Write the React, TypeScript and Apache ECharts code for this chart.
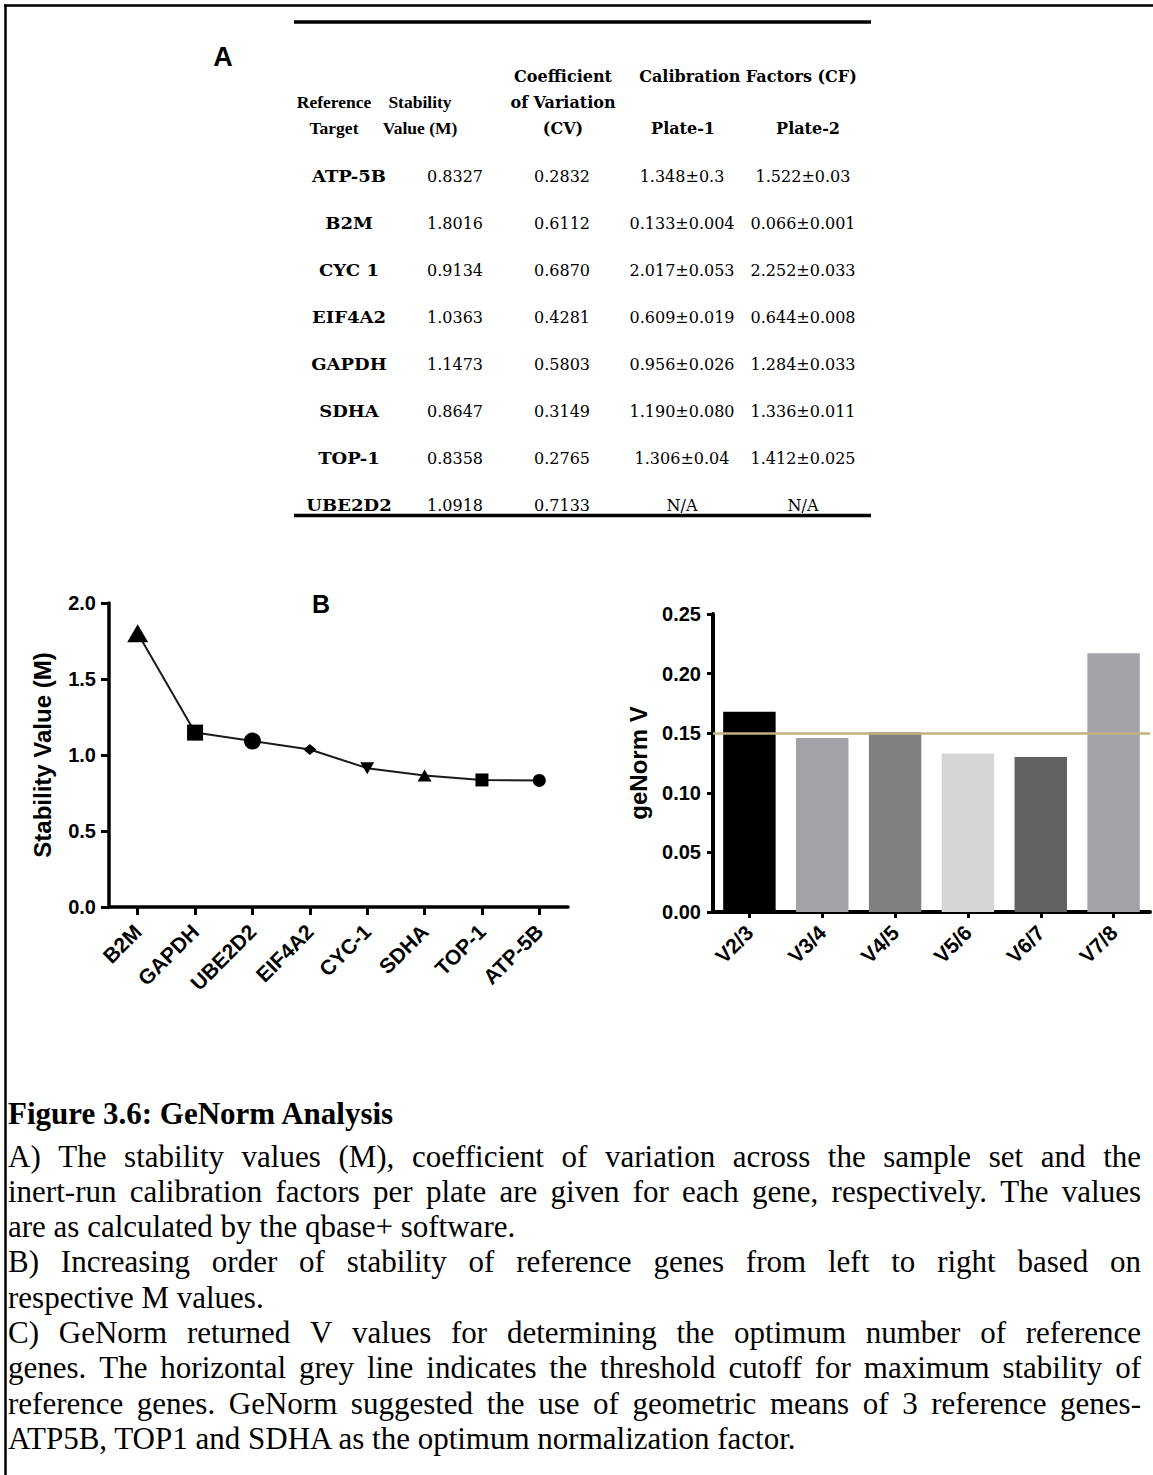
import React, { useEffect, useRef } from "react";
import * as echarts from "echarts";

const PAGE_W = 1153;
const PAGE_H = 1475;

// ---------- Panel A (table) ----------
const tableGenes = ["ATP-5B", "B2M", "CYC 1", "EIF4A2", "GAPDH", "SDHA", "TOP-1", "UBE2D2"];
const tableM = ["0.8327", "1.8016", "0.9134", "1.0363", "1.1473", "0.8647", "0.8358", "1.0918"];
const tableCV = ["0.2832", "0.6112", "0.6870", "0.4281", "0.5803", "0.3149", "0.2765", "0.7133"];
const tableCF1 = ["1.348±0.3", "0.133±0.004", "2.017±0.053", "0.609±0.019", "0.956±0.026", "1.190±0.080", "1.306±0.04", "N/A"];
const tableCF2 = ["1.522±0.03", "0.066±0.001", "2.252±0.033", "0.644±0.008", "1.284±0.033", "1.336±0.011", "1.412±0.025", "N/A"];
const tableHeaders = [
  { text: "Coefficient", col: "cv", row: 0, narrow: false },
  { text: "Calibration Factors (CF)", col: "cf", row: 0, narrow: false },
  { text: "Reference", col: "ref", row: 1, narrow: true },
  { text: "Stability", col: "stab", row: 1, narrow: true },
  { text: "of Variation", col: "cv", row: 1, narrow: false },
  { text: "Target", col: "ref", row: 2, narrow: true },
  { text: "Value (M)", col: "stab", row: 2, narrow: true },
  { text: "(CV)", col: "cv", row: 2, narrow: false },
  { text: "Plate-1", col: "p1", row: 2, narrow: false },
  { text: "Plate-2", col: "p2", row: 2, narrow: false },
];

// ---------- Panel B (line) ----------
const bGenes = ["B2M", "GAPDH", "UBE2D2", "EIF4A2", "CYC-1", "SDHA", "TOP-1", "ATP-5B"];
const bValues = [1.8016, 1.1473, 1.0918, 1.0363, 0.9134, 0.8647, 0.8358, 0.8327];
const bSymbols = ["triangle", "rect", "circle", "diamond", "triangle", "triangle", "rect", "circle"];
const bSymbolRotate = [0, 0, 0, 0, 180, 0, 0, 0];
const bSymbolSizes = [[21, 18], [16, 16], [17, 17], [13, 11], [14, 12], [14, 12], [13, 13], [13, 13]];

// ---------- Panel C (bars) ----------
const cCats = ["V2/3", "V3/4", "V4/5", "V5/6", "V6/7", "V7/8"];
const cValues = [0.168, 0.146, 0.151, 0.133, 0.13, 0.217];
const cColors = ["#000000", "#a3a2a7", "#808080", "#d5d5d5", "#626262", "#a3a2a7"];
const cThreshold = 0.15;

// ---------- Caption ----------
const captionTitle = "Figure 3.6: GeNorm Analysis";
const captionLines = [
  { text: "A) The stability values (M), coefficient of variation across the sample set and the", justify: true },
  { text: "inert-run calibration factors per plate are given for each gene, respectively. The values", justify: true },
  { text: "are as calculated by the qbase+ software.", justify: false },
  { text: "B) Increasing order of stability of reference genes from left to right based on", justify: true },
  { text: "respective M values.", justify: false },
  { text: "C) GeNorm returned V values for determining the optimum number of reference", justify: true },
  { text: "genes. The horizontal grey line indicates the threshold cutoff for maximum stability of", justify: true },
  { text: "reference genes. GeNorm suggested the use of geometric means of 3 reference genes-", justify: true },
  { text: "ATP5B, TOP1 and SDHA as the optimum normalization factor.", justify: false },
];

const SANS = '"Liberation Sans", Arial, sans-serif';
const TSERIF = '"DejaVu Serif", serif';
const CSERIF = '"Liberation Serif", "Times New Roman", serif';

let measureCtx: CanvasRenderingContext2D | null = null;
function measure(text: string, font: string): number {
  if (!measureCtx) {
    const c = document.createElement("canvas");
    measureCtx = c.getContext("2d");
  }
  if (!measureCtx) return text.length * 14;
  measureCtx.font = font;
  return measureCtx.measureText(text).width;
}

function txt(x: number, y: number, text: string, font: string, align = "center", extra: any = {}) {
  return {
    type: "text",
    x,
    y,
    silent: true,
    ...extra,
    style: {
      text,
      font,
      fill: "#000",
      align,
      textAlign: align,
      verticalAlign: "middle",
      textVerticalAlign: "middle",
    },
  };
}

function buildGraphics(): any[] {
  const g: any[] = [];
  // page frame
  g.push({ type: "line", silent: true, shape: { x1: 4, y1: 5.5, x2: PAGE_W, y2: 5.5 }, style: { stroke: "#000", lineWidth: 2.5 } });
  g.push({ type: "line", silent: true, shape: { x1: 5.5, y1: 4.5, x2: 5.5, y2: PAGE_H }, style: { stroke: "#000", lineWidth: 2.5 } });

  // Panel A
  g.push(txt(223, 57, "A", `bold 27px ${SANS}`));
  g.push({ type: "line", silent: true, shape: { x1: 294, y1: 22, x2: 871, y2: 22 }, style: { stroke: "#000", lineWidth: 3.5 } });
  g.push({ type: "line", silent: true, shape: { x1: 294, y1: 515.5, x2: 871, y2: 515.5 }, style: { stroke: "#000", lineWidth: 3.5 } });
  const headerX: Record<string, number> = { ref: 334, stab: 420, cv: 563, cf: 748, p1: 683, p2: 808 };
  const headerY = [76, 102, 128];
  const hFont = `bold 16px ${TSERIF}`;
  const hNarrowFont = `bold 17.5px ${CSERIF}`;
  tableHeaders.forEach((h) => g.push(txt(headerX[h.col], headerY[h.row], h.text, h.narrow ? hNarrowFont : hFont)));
  const colX = [349, 455, 562, 682, 803];
  const nFont = `bold 17px ${TSERIF}`;
  const vFont = `16px ${TSERIF}`;
  tableGenes.forEach((gene, i) => {
    const y = 176 + i * 47;
    g.push(txt(colX[0], y, gene, nFont, "center", { scaleX: 1.06, originX: 0, originY: 0 }));
    g.push(txt(colX[1], y, tableM[i], vFont));
    g.push(txt(colX[2], y, tableCV[i], vFont));
    g.push(txt(colX[3], y, tableCF1[i], vFont));
    g.push(txt(colX[4], y, tableCF2[i], vFont));
  });

  // Panel B label + axis names
  g.push(txt(321, 604, "B", `bold 25px ${SANS}`));
  g.push(txt(42, 755, "Stability Value (M)", `bold 24px ${SANS}`, "center", { rotation: Math.PI / 2 }));
  g.push(txt(638, 763, "geNorm V", `bold 24px ${SANS}`, "center", { rotation: Math.PI / 2 }));

  // Caption
  const size = 31;
  const capFont = `${size}px ${CSERIF}`;
  const left = 8;
  const right = 1141;
  g.push(txt(left, 1113, captionTitle, `bold ${size}px ${CSERIF}`, "left"));
  captionLines.forEach((ln, k) => {
    const y = 1156 + k * 35.3;
    if (!ln.justify) {
      g.push(txt(left, y, ln.text, capFont, "left"));
      return;
    }
    const words = ln.text.split(" ");
    const widths = words.map((w) => measure(w, capFont));
    const total = widths.reduce((a, b) => a + b, 0);
    const gap = (right - left - total) / (words.length - 1);
    if (gap < 3) {
      const natural = measure(ln.text, capFont);
      g.push(txt(left, y, ln.text, capFont, "left", { scaleX: (right - left) / natural, originX: 0, originY: 0 }));
      return;
    }
    let x = left;
    words.forEach((w, i) => {
      g.push(txt(x, y, w, capFont, "left"));
      x += widths[i] + gap;
    });
  });
  return g;
}

function buildOption(): any {
  const axisFont = { fontFamily: SANS, fontWeight: "bold", fontSize: 20, color: "#000" };
  return {
    animation: false,
    backgroundColor: "#fff",
    grid: [
      { left: 109, top: 603, width: 459, height: 304, containLabel: false },
      { left: 713, top: 614, width: 437, height: 298, containLabel: false },
    ],
    xAxis: [
      {
        gridIndex: 0,
        type: "category",
        data: bGenes,
        boundaryGap: true,
        axisLine: { show: true, lineStyle: { color: "#000", width: 3.5 } },
        axisTick: { show: true, alignWithLabel: true, length: 8, lineStyle: { color: "#000", width: 3 } },
        axisLabel: { ...axisFont, fontSize: 21, rotate: 45, margin: 21, interval: 0 },
        splitLine: { show: false },
      },
      {
        gridIndex: 1,
        type: "category",
        data: cCats,
        boundaryGap: true,
        axisLine: { show: true, lineStyle: { color: "#000", width: 4 } },
        axisTick: { show: true, alignWithLabel: true, length: 6, lineStyle: { color: "#000", width: 3 } },
        axisLabel: { ...axisFont, fontSize: 21, rotate: 45, margin: 17, interval: 0 },
        splitLine: { show: false },
      },
    ],
    yAxis: [
      {
        gridIndex: 0,
        type: "value",
        min: 0,
        max: 2,
        interval: 0.5,
        axisLine: { show: true, lineStyle: { color: "#000", width: 3.5 } },
        axisTick: { show: true, length: 8, lineStyle: { color: "#000", width: 3 } },
        axisLabel: { ...axisFont, margin: 13, formatter: (v: number) => v.toFixed(1) },
        splitLine: { show: false },
      },
      {
        gridIndex: 1,
        type: "value",
        min: 0,
        max: 0.25,
        interval: 0.05,
        axisLine: { show: true, lineStyle: { color: "#000", width: 4 } },
        axisTick: { show: true, length: 6, lineStyle: { color: "#000", width: 3 } },
        axisLabel: { ...axisFont, margin: 12, formatter: (v: number) => v.toFixed(2) },
        splitLine: { show: false },
      },
    ],
    series: [
      {
        type: "line",
        xAxisIndex: 0,
        yAxisIndex: 0,
        showAllSymbol: true,
        data: bValues.map((v, i) => ({
          value: v,
          symbol: bSymbols[i],
          symbolSize: bSymbolSizes[i],
          symbolRotate: bSymbolRotate[i],
        })),
        lineStyle: { color: "#1a1a1a", width: 2 },
        itemStyle: { color: "#000", borderWidth: 0 },
        z: 5,
      },
      {
        type: "bar",
        xAxisIndex: 1,
        yAxisIndex: 1,
        barCategoryGap: "28%",
        data: cValues.map((v, i) => ({ value: v, itemStyle: { color: cColors[i] } })),
        markLine: {
          silent: true,
          symbol: ["none", "none"],
          label: { show: false },
          lineStyle: { color: "#c1b37e", width: 2.5, type: "solid" },
          data: [{ yAxis: cThreshold }],
        },
      },
    ],
    graphic: { elements: buildGraphics() },
  };
}

export default function App() {
  const ref = useRef<HTMLDivElement>(null);
  useEffect(() => {
    if (!ref.current) return;
    const chart = echarts.init(ref.current, undefined, { renderer: "svg" });
    chart.setOption(buildOption());
    return () => chart.dispose();
  }, []);
  return (
    <div
      ref={ref}
      style={{ position: "absolute", left: 0, top: 0, width: PAGE_W, height: PAGE_H, background: "#fff" }}
    />
  );
}
